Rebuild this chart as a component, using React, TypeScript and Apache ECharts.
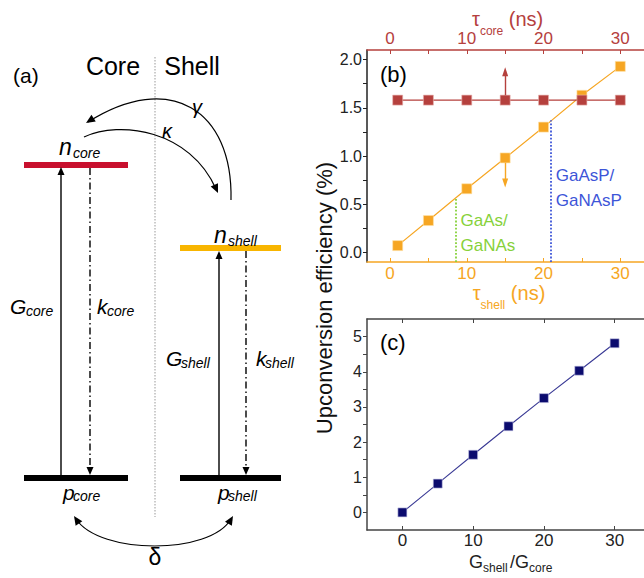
import React, { useEffect, useRef } from "react";
import * as echarts from "echarts";

// ---- data ----
const tauShell = [1, 5, 10, 15, 20, 25, 30];
const effShell = [0.07, 0.33, 0.66, 0.98, 1.3, 1.63, 1.93];
const tauCore = [1, 5, 10, 15, 20, 25, 30];
const effCore = [1.58, 1.58, 1.58, 1.58, 1.58, 1.58, 1.58];
const gRatio = [0, 5, 10, 15, 20, 25, 30];
const effRatio = [0, 0.82, 1.64, 2.45, 3.25, 4.03, 4.81];

const tauTicks = [0, 5, 10, 15, 20, 25, 30];
const tauLabels = [0, 10, 20, 30];
const effBTicks = [0, 0.25, 0.5, 0.75, 1, 1.25, 1.5, 1.75, 2];
const effBLabels = [0, 0.5, 1, 1.5, 2];
const ratioTicks = [0, 10, 20, 30];
const effCTicks = [0, 0.5, 1, 1.5, 2, 2.5, 3, 3.5, 4, 4.5, 5];
const effCLabels = [0, 1, 2, 3, 4, 5];

const gaAsLimit = [8.6, 0.57]; // tau_shell, efficiency
const gaAsPLimit = [21, 1.37];
const coreArrow = [15, 1.63, 1.875]; // x, from, to
const shellArrow = [15, 0.93, 0.72];

const FONT = "'Liberation Sans', Arial, sans-serif";
const ORANGE = "#F6A623";
const RED = "#B5403D";
const NAVY = "#0B0B6E";
const GREEN = "#86D13A";
const BLUE = "#3D55D8";
const DARK = "#222";

function head(tx: number, ty: number, dx: number, dy: number, len = 8, w = 3.5) {
  const l = Math.hypot(dx, dy);
  const ux = dx / l, uy = dy / l;
  const bx = tx - ux * len, by = ty - uy * len;
  return {
    type: "polygon",
    shape: { points: [[tx, ty], [bx - uy * w, by + ux * w], [bx + uy * w, by - ux * w]] },
    style: { fill: "#000" },
  };
}

function txt(x: number, y: number, text: string, size: number, opts: any = {}) {
  return {
    type: "text",
    x,
    y,
    rotation: opts.rotation || 0,
    style: {
      text,
      fontSize: size,
      fontFamily: FONT,
      fontStyle: opts.italic ? "italic" : "normal",
      fill: opts.color || "#000",
      align: opts.align || "left",
      verticalAlign: "middle",
    },
  };
}

function vline(x: number, y1: number, y2: number, dash?: number[]) {
  return {
    type: "line",
    shape: { x1: x, y1, x2: x, y2 },
    style: { stroke: "#000", lineWidth: 1.4, lineDash: dash || null },
  };
}

function bar(x: number, y: number, w: number, color: string) {
  return { type: "rect", shape: { x, y, width: w, height: 6 }, style: { fill: color } };
}

function curve(x1: number, y1: number, c1x: number, c1y: number, c2x: number, c2y: number, x2: number, y2: number) {
  return {
    type: "bezierCurve",
    shape: { x1, y1, cpx1: c1x, cpy1: c1y, cpx2: c2x, cpy2: c2y, x2, y2 },
    style: { stroke: "#000", lineWidth: 1.2, fill: null },
  };
}

const richT = (color: string, size: number, lh: number) => ({ fontSize: size, color, lineHeight: lh, verticalAlign: "top", fontWeight: "normal", fontFamily: FONT });
const richS = (color: string, size: number, lh: number) => ({ fontSize: size, color, lineHeight: lh, verticalAlign: "bottom", fontWeight: "normal", fontFamily: FONT });

export default function App() {
  const ref = useRef<HTMLDivElement>(null);
  useEffect(() => {
    const chart = echarts.init(ref.current!, null, { renderer: "svg" });
    const dash = [7, 3, 1.5, 3];
    const graphic: any[] = [
      // panel (a)
      txt(13, 75, "(a)", 21),
      txt(113, 66, "Core", 25, { align: "center" }),
      txt(192, 66, "Shell", 25, { align: "center" }),
      {
        type: "line",
        shape: { x1: 155, y1: 57, x2: 155, y2: 517 },
        style: { stroke: "#999", lineWidth: 1, lineDash: [1.5, 1.5] },
      },
      bar(24, 162, 104, "#C8102E"),
      bar(180, 245, 101, "#F8B500"),
      bar(24, 475, 104, "#000"),
      bar(180, 475, 101, "#000"),
      vline(61, 475, 172),
      head(61, 167, 0, -1),
      vline(90, 168, 470, dash),
      head(90, 475, 0, 1),
      vline(219, 475, 257),
      head(219, 251, 0, -1),
      vline(246, 251, 470, dash),
      head(246, 475, 0, 1),
      curve(231, 200, 233, 110, 170, 70, 88, 122),
      head(86, 123, -84, 53, 9, 4),
      curve(84, 137, 120, 120, 190, 130, 216, 189),
      head(218, 193, 28, 63, 9, 4),
      curve(76, 519, 100, 555, 210, 555, 231, 519),
      head(74, 516, -26, -39, 9, 4),
      head(233, 516, 23, -39, 9, 4),
      txt(59, 147, "n", 23, { italic: true }),
      txt(73, 153, "core", 14, { italic: true }),
      txt(214, 235, "n", 23, { italic: true }),
      txt(228, 241, "shell", 14, { italic: true }),
      txt(10, 306, "G", 21, { italic: true }),
      txt(26, 311, "core", 14, { italic: true }),
      txt(97, 306, "k", 21, { italic: true }),
      txt(107, 311, "core", 14, { italic: true }),
      txt(166, 358, "G", 21, { italic: true }),
      txt(181, 363, "shell", 14, { italic: true }),
      txt(256, 358, "k", 21, { italic: true }),
      txt(265, 363, "shell", 14, { italic: true }),
      txt(63, 492, "p", 21, { italic: true }),
      txt(73, 496, "core", 14, { italic: true }),
      txt(218, 492, "p", 21, { italic: true }),
      txt(228, 496, "shell", 14, { italic: true }),
      txt(197, 107, "γ", 20, { italic: true, align: "center" }),
      txt(167, 131, "κ", 20, { italic: true, align: "center" }),
      txt(155, 557, "δ", 23, { align: "center" }),
      // panels (b), (c)
      txt(380, 74, "(b)", 22),
      txt(380, 342, "(c)", 22),
      txt(324, 298, "Upconversion efficiency (%)", 22, { rotation: Math.PI / 2, align: "center", color: "#111" }),
      // x title of panel (c): G_shell / G_core
      txt(469, 562, "G", 18, { color: DARK }),
      txt(483, 568, "shell", 12, { color: DARK }),
      txt(510, 562, "/G", 18, { color: DARK }),
      txt(529, 568, "core", 12, { color: DARK }),
    ];

    const tickLabel = (color: string, size: number, margin: number, vals: number[], fmt?: (v: number) => string) => ({
      show: true,
      color,
      fontSize: size,
      margin,
      customValues: vals,
      formatter: fmt || ((v: number) => String(v)),
    });

    const option: any = {
      animation: false,
      textStyle: { fontFamily: FONT },
      grid: [
        { left: 367, top: 50, width: 284, height: 212, containLabel: false, outerBoundsMode: "none" },
        { left: 367, top: 319, width: 283, height: 211, containLabel: false, outerBoundsMode: "none" },
      ],
      xAxis: [
        {
          type: "value", gridIndex: 0, position: "bottom", min: -3, max: 34,
          axisLine: { show: true, onZero: false, lineStyle: { color: ORANGE, width: 1.5 } },
          axisTick: { show: true, inside: true, length: 4, customValues: tauTicks, lineStyle: { color: ORANGE } },
          axisLabel: tickLabel(ORANGE, 17, 3, tauLabels),
          splitLine: { show: false },
          name: "{t|τ}{s|shell}{t| (ns)}",
          nameLocation: "middle",
          nameGap: 17,
          nameTextStyle: { color: ORANGE, rich: { t: richT(ORANGE, 20, 28), s: richS(ORANGE, 12, 12) } },
        },
        {
          type: "value", gridIndex: 0, position: "top", min: -3, max: 34,
          axisLine: { show: true, onZero: false, lineStyle: { color: RED, width: 1.5 } },
          axisTick: { show: true, inside: true, length: 4, customValues: tauTicks, lineStyle: { color: RED } },
          axisLabel: tickLabel(RED, 17, 3, tauLabels),
          splitLine: { show: false },
        },
        {
          type: "value", gridIndex: 1, position: "bottom", min: -5, max: 35,
          axisLine: { show: true, onZero: false, lineStyle: { color: "#444", width: 1.5 } },
          axisTick: { show: true, inside: true, length: 4, customValues: ratioTicks, lineStyle: { color: "#444" } },
          axisLabel: tickLabel(DARK, 17, 2, ratioTicks),
          splitLine: { show: false },
        },
        {
          type: "value", gridIndex: 1, position: "top", min: -5, max: 35,
          axisLine: { show: true, onZero: false, lineStyle: { color: "#444", width: 1.5 } },
          axisTick: { show: true, inside: true, length: 4, customValues: ratioTicks, lineStyle: { color: "#444" } },
          axisLabel: { show: false },
          splitLine: { show: false },
        },
      ],
      yAxis: [
        {
          type: "value", gridIndex: 0, position: "left", min: -0.1, max: 2.1,
          axisLine: { show: true, onZero: false, lineStyle: { color: DARK, width: 1.5 } },
          axisTick: { show: true, inside: false, length: 4, customValues: effBTicks, lineStyle: { color: DARK } },
          axisLabel: tickLabel(DARK, 16, 5, effBLabels, (v: number) => v.toFixed(1)),
          splitLine: { show: false },
        },
        {
          type: "value", gridIndex: 1, position: "left", min: -0.5, max: 5.5,
          axisLine: { show: true, onZero: false, lineStyle: { color: "#444", width: 1.5 } },
          axisTick: { show: true, inside: false, length: 4, customValues: effCTicks, lineStyle: { color: "#444" } },
          axisLabel: tickLabel(DARK, 16, 5, effCLabels),
          splitLine: { show: false },
        },
      ],
      title: {
        text: "{t|τ}{s|core}{t| (ns)}",
        left: 472,
        top: 9,
        padding: 0,
        textStyle: { fontWeight: "normal", rich: { t: richT(RED, 20, 28), s: richS(RED, 12, 12) } },
      },
      series: [
        {
          type: "line", xAxisIndex: 0, yAxisIndex: 0, data: [], z: 1,
          markLine: {
            silent: true, symbol: ["none", "none"], animation: false,
            label: { show: false },
            lineStyle: { type: "dotted", color: GREEN, width: 1.8 },
            data: [[{ coord: [gaAsLimit[0], -0.1] }, { coord: [gaAsLimit[0], gaAsLimit[1]] }]],
          },
          markPoint: {
            silent: true, symbol: "rect", symbolSize: 1, itemStyle: { color: "rgba(0,0,0,0)" },
            data: [{
              coord: [gaAsLimit[0], 0.2],
              label: { show: true, position: "right", distance: 4, formatter: "GaAs/\nGaNAs", color: GREEN, fontSize: 17, lineHeight: 25, align: "left" },
            }],
          },
        },
        {
          type: "line", xAxisIndex: 0, yAxisIndex: 0, data: [], z: 1,
          markLine: {
            silent: true, symbol: ["none", "none"], animation: false,
            label: { show: false },
            lineStyle: { type: "dotted", color: BLUE, width: 1.8 },
            data: [[{ coord: [gaAsPLimit[0], -0.1] }, { coord: [gaAsPLimit[0], gaAsPLimit[1]] }]],
          },
          markPoint: {
            silent: true, symbol: "rect", symbolSize: 1, itemStyle: { color: "rgba(0,0,0,0)" },
            data: [{
              coord: [gaAsPLimit[0], 0.67],
              label: { show: true, position: "right", distance: 4, formatter: "GaAsP/\nGaNAsP", color: BLUE, fontSize: 17, lineHeight: 25, align: "left" },
            }],
          },
        },
        {
          name: "shell", type: "line", xAxisIndex: 0, yAxisIndex: 0, z: 3,
          data: tauShell.map((t, i) => [t, effShell[i]]),
          symbol: "rect", symbolSize: 10,
          itemStyle: { color: ORANGE, borderColor: "#FFE2A8", borderWidth: 0.6 },
          lineStyle: { color: ORANGE, width: 1.2 },
          markLine: {
            silent: true, symbol: ["none", "triangle"], symbolSize: [6, 9], animation: false,
            label: { show: false },
            lineStyle: { type: "solid", color: ORANGE, width: 1.4 },
            data: [[{ coord: [shellArrow[0], shellArrow[1]] }, { coord: [shellArrow[0], shellArrow[2]] }]],
          },
        },
        {
          name: "core", type: "line", xAxisIndex: 1, yAxisIndex: 0, z: 4,
          data: tauCore.map((t, i) => [t, effCore[i]]),
          symbol: "rect", symbolSize: 10,
          itemStyle: { color: RED, borderColor: "#E8B4B0", borderWidth: 0.6 },
          lineStyle: { color: RED, width: 1.2 },
          markLine: {
            silent: true, symbol: ["none", "triangle"], symbolSize: [6, 9], animation: false,
            label: { show: false },
            lineStyle: { type: "solid", color: RED, width: 1.4 },
            data: [[{ coord: [coreArrow[0], coreArrow[1]] }, { coord: [coreArrow[0], coreArrow[2]] }]],
          },
        },
        {
          name: "ratio", type: "line", xAxisIndex: 2, yAxisIndex: 1, z: 3,
          data: gRatio.map((g, i) => [g, effRatio[i]]),
          symbol: "rect", symbolSize: 9,
          itemStyle: { color: NAVY, borderColor: "#C8C8E8", borderWidth: 0.6 },
          lineStyle: { color: "#3A3A95", width: 1.1 },
        },
      ],
      graphic,
    };
    chart.setOption(option);
    return () => chart.dispose();
  }, []);
  return <div ref={ref} style={{ position: "absolute", left: 0, top: 0, width: 644, height: 578, background: "#fff" }} />;
}
